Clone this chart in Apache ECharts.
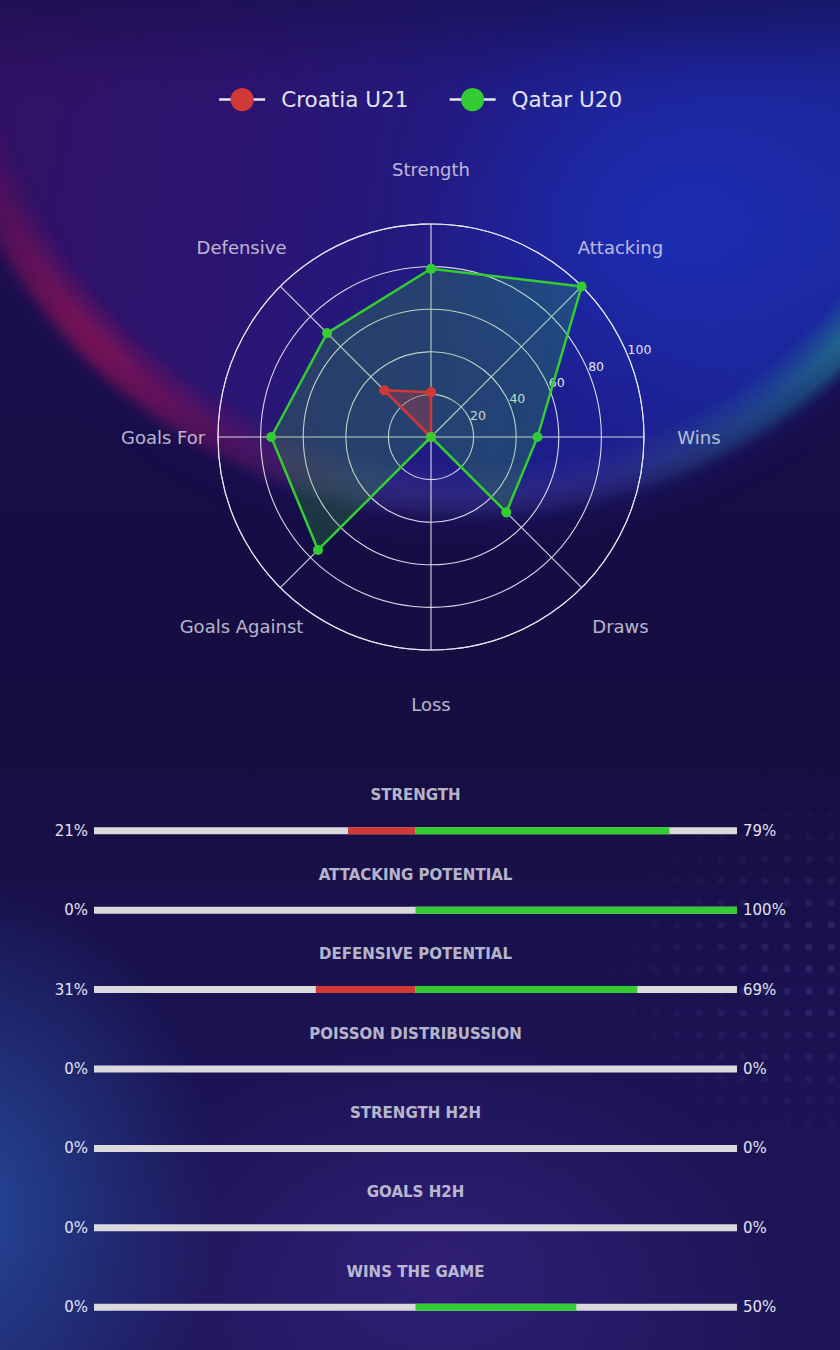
<!DOCTYPE html>
<html>
<head>
<meta charset="utf-8">
<script src="https://cdn.jsdelivr.net/npm/echarts@6/dist/echarts.min.js"></script>
<style>
  html, body { margin: 0; padding: 0; }
  body {
    width: 840px; height: 1350px; overflow: hidden; position: relative;
    background:
      radial-gradient(ellipse 330px 420px at -40px 1210px, rgba(38, 85, 170, 0.8), transparent 78%),
      radial-gradient(ellipse 430px 300px at 440px 1270px, rgba(58, 36, 135, 0.65), transparent 78%),
      linear-gradient(180deg, #1a1050 0%, #170d46 40%, #160d40 55%, #1a1250 72%, #1f165a 100%);
  }
  .bowl {
    position: absolute; left: -55px; top: -505px; width: 1050px; height: 1010px;
    border-radius: 50%;
    background:
      linear-gradient(180deg, rgba(20, 14, 70, 0.65) 49%, rgba(20, 14, 70, 0) 58%),
      radial-gradient(ellipse 380px 300px at 70% 72%, rgba(28, 50, 190, 0.8), transparent 70%),
      linear-gradient(100deg, #34105e 0%, #2c1470 33%, #1d1d8c 62%, #1a2ba2 100%);
    filter: blur(22px);
  }
  .rim {
    position: absolute; left: -75px; top: -525px; width: 1090px; height: 1050px;
    border-radius: 50%;
    background: conic-gradient(from 0deg,
      rgba(0,0,0,0) 0deg, rgba(0,0,0,0) 105deg,
      rgba(40, 200, 150, 0.5) 128deg, rgba(40, 170, 160, 0.3) 142deg,
      rgba(150, 140, 220, 0.12) 165deg, rgba(150, 140, 220, 0.14) 192deg,
      rgba(170, 20, 90, 0.3) 208deg, rgba(195, 20, 80, 0.55) 228deg,
      rgba(150, 15, 90, 0.3) 250deg, rgba(0,0,0,0) 268deg);
    -webkit-mask: radial-gradient(closest-side, transparent 88%, #000 94%, #000 97%, transparent 100%);
    mask: radial-gradient(closest-side, transparent 88%, #000 94%, #000 97%, transparent 100%);
    filter: blur(18px);
  }
  .dots {
    position: absolute; left: 600px; top: 760px; width: 240px; height: 420px;
    background-image: radial-gradient(circle, rgba(130, 120, 210, 0.16) 3px, transparent 4.5px);
    background-size: 22px 22px;
    -webkit-mask: radial-gradient(ellipse 240px 200px at 100% 50%, #000 20%, transparent 100%);
    mask: radial-gradient(ellipse 240px 200px at 100% 50%, #000 20%, transparent 100%);
  }
  #chart { position: absolute; left: 0; top: 0; width: 840px; height: 1350px; }
</style>
</head>
<body>
<div class="bowl"></div>
<div class="rim"></div>
<div class="dots"></div>
<div id="chart"></div>
<script>
// radar data
const categories = ['Strength', 'Attacking', 'Wins', 'Draws', 'Loss', 'Goals Against', 'Goals For', 'Defensive']
const croatiaValues = [21, 0, 0, 0, 0, 0, 0, 31]
const qatarValues = [79, 100, 50, 50, 0, 75, 75, 69]
const teams = ['Croatia U21', 'Qatar U20']

// comparison bars
const metrics = ['STRENGTH', 'ATTACKING POTENTIAL', 'DEFENSIVE POTENTIAL', 'POISSON DISTRIBUSSION', 'STRENGTH H2H', 'GOALS H2H', 'WINS THE GAME']
const homePct = [21, 0, 31, 0, 0, 0, 0]
const awayPct = [79, 100, 69, 0, 0, 0, 50]

const RED = '#d13838'
const GREEN = '#33cc33'
const TEXT = '#e2e2ee'
const GRID = 'rgba(232, 232, 242, 0.92)'
const FONT = 'DejaVu Sans'

const step = 360 / categories.length
const labelRadius = 125.8

// close the polygon by repeating the first point at 360
function toPolar (values) {
  let pts = values.map((v, i) => [v, i * step])
  pts.push([values[0], 360])
  return pts
}

const chart = echarts.init(document.getElementById('chart'), null, {renderer: 'svg'})

const option = {
  animation: false,
  textStyle: {fontFamily: FONT},
  legend: {
    data: teams,
    top: 88,
    left: 'center',
    padding: 0,
    itemWidth: 46,
    itemHeight: 29,
    itemGap: 40,
    lineStyle: {color: '#e8e8f0', width: 2.5},
    textStyle: {color: TEXT, fontSize: 21.5, fontFamily: FONT, padding: [0, 0, 0, 11]}
  },
  polar: [
    {center: [431, 437], radius: [0, 213]},
    {center: [431, 437], radius: [0, 213]}
  ],
  angleAxis: [
    {
      polarIndex: 0,
      type: 'value',
      min: 0,
      max: 360,
      interval: step,
      startAngle: 90,
      clockwise: true,
      axisLine: {show: true, lineStyle: {color: GRID, width: 1.1}},
      axisTick: {show: false},
      axisLabel: {show: false},
      splitLine: {show: true, lineStyle: {color: GRID, width: 1.1}}
    },
    {
      polarIndex: 1,
      type: 'value',
      min: 0,
      max: 360,
      startAngle: 22.5,
      axisLine: {show: false},
      axisTick: {show: false},
      axisLabel: {show: false},
      splitLine: {show: false}
    }
  ],
  radiusAxis: [
    {
      polarIndex: 0,
      type: 'value',
      min: 0,
      max: 100,
      interval: 20,
      axisLine: {show: false},
      axisTick: {show: false},
      axisLabel: {show: false},
      splitLine: {show: true, lineStyle: {color: GRID, width: 1.1}}
    },
    {
      polarIndex: 1,
      type: 'value',
      min: 0,
      max: 100,
      interval: 20,
      axisLine: {show: false},
      axisTick: {show: false},
      splitLine: {show: false},
      axisLabel: {
        show: true,
        color: TEXT,
        fontSize: 12.5,
        fontFamily: FONT,
        margin: 6,
        align: 'left',
        verticalAlign: 'middle',
        padding: [0, 0, 0, 2],
        formatter: v => (v === 0 ? '' : String(v))
      }
    }
  ],
  grid: {left: 94, right: 103, top: 791, height: 556},
  xAxis: {type: 'value', min: -100, max: 100, show: false},
  yAxis: [
    {
      type: 'category',
      data: metrics,
      inverse: true,
      axisLine: {show: false},
      axisTick: {show: false},
      axisLabel: {
        color: TEXT, fontSize: 15, fontFamily: FONT, margin: 6,
        formatter: (v, i) => homePct[i] + '%'
      }
    },
    {
      type: 'category',
      data: metrics,
      inverse: true,
      position: 'right',
      axisLine: {show: false},
      axisTick: {show: false},
      axisLabel: {
        color: TEXT, fontSize: 15, fontFamily: FONT, margin: 6,
        formatter: (v, i) => awayPct[i] + '%'
      }
    }
  ],
  series: [
    {
      name: teams[0],
      type: 'line',
      coordinateSystem: 'polar',
      polarIndex: 0,
      data: toPolar(croatiaValues),
      clip: false,
      symbol: 'circle',
      symbolSize: 10,
      itemStyle: {color: RED},
      lineStyle: {color: RED, width: 2.5},
      areaStyle: {color: RED, opacity: 0.3},
      z: 3
    },
    {
      // Qatar outline and markers, on top of everything
      name: teams[1],
      type: 'line',
      coordinateSystem: 'polar',
      polarIndex: 0,
      data: toPolar(qatarValues),
      clip: false,
      symbol: 'circle',
      symbolSize: 10,
      itemStyle: {color: GREEN},
      lineStyle: {color: GREEN, width: 2.5},
      z: 4
    },
    {
      // Qatar fill, under the Croatia shape
      name: teams[1],
      type: 'line',
      coordinateSystem: 'polar',
      polarIndex: 0,
      data: toPolar(qatarValues),
      clip: false,
      symbol: 'none',
      itemStyle: {color: GREEN},
      lineStyle: {width: 0, opacity: 0},
      areaStyle: {color: GREEN, opacity: 0.22},
      z: 2
    },
    {
      // category names around the radar
      type: 'scatter',
      coordinateSystem: 'polar',
      polarIndex: 0,
      clip: false,
      silent: true,
      symbolSize: 0,
      data: categories.map((c, i) => [labelRadius, i * step]),
      label: {
        show: true,
        position: 'inside',
        color: TEXT,
        fontSize: 18,
        fontFamily: FONT,
        formatter: p => categories[p.dataIndex]
      }
    },
    {
      type: 'bar',
      xAxisIndex: 0,
      yAxisIndex: 0,
      data: homePct.map(v => -v),
      barWidth: 7,
      barGap: '-100%',
      itemStyle: {color: RED},
      showBackground: true,
      backgroundStyle: {color: '#d9d9de'}
    },
    {
      type: 'bar',
      xAxisIndex: 0,
      yAxisIndex: 0,
      data: awayPct,
      barWidth: 7,
      barGap: '-100%',
      itemStyle: {color: GREEN}
    },
    {
      // metric titles above each bar
      type: 'scatter',
      xAxisIndex: 0,
      yAxisIndex: 0,
      silent: true,
      symbolSize: 0,
      data: metrics.map((m, i) => [0, i]),
      label: {
        show: true,
        position: 'top',
        distance: 28,
        color: TEXT,
        fontSize: 15,
        fontWeight: 'bold',
        fontFamily: FONT,
        formatter: p => metrics[p.dataIndex]
      }
    }
  ]
}

chart.setOption(option)
</script>
</body>
</html>
